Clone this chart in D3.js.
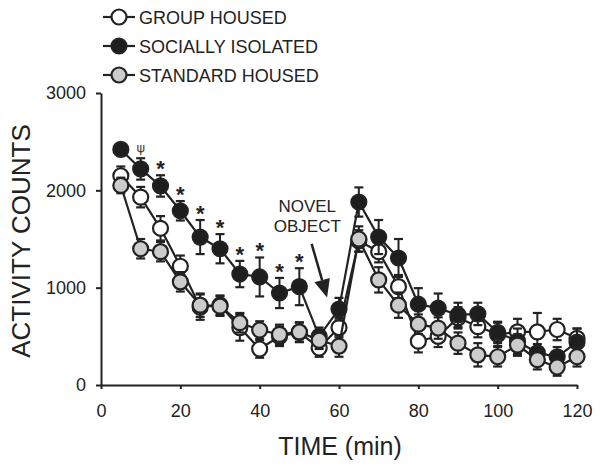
<!DOCTYPE html>
<html><head><meta charset="utf-8">
<script src="https://cdn.jsdelivr.net/npm/d3@7"></script>
<style>
body{margin:0;background:#fff;}
svg{display:block;font-family:"Liberation Sans",Arial,sans-serif;}
</style></head>
<body><svg id="c" width="600" height="469"></svg>
<script>
const times = [5,10,15,20,25,30,35,40,45,50,55,60,65,70,75,80,85,90,95,100,105,110,115,120];
const groupHoused = [2150,1930,1610,1220,800,820,590,370,500,540,380,590,1480,1370,1010,450,500,690,600,520,545,545,570,480];
const groupHousedSem = [95,105,125,110,130,100,135,90,100,100,90,100,110,110,120,115,110,110,110,120,135,195,110,100];
const sociallyIsolated = [2420,2220,2045,1790,1520,1400,1140,1110,945,1010,500,780,1880,1520,1305,830,790,720,730,540,450,330,290,440];
const sociallyIsolatedSem = [60,110,110,100,175,150,135,200,155,190,90,115,150,175,195,165,150,125,115,110,130,90,100,140];
const standardHoused = [2050,1400,1370,1060,820,810,640,565,520,545,460,400,1500,1080,820,625,585,430,310,290,410,260,185,290];
const standardHousedSem = [80,100,100,100,120,100,100,90,100,100,90,110,130,130,130,100,110,110,120,100,110,100,90,100];
const seriesNames = ["GROUP HOUSED","SOCIALLY ISOLATED","STANDARD HOUSED"];
const xTicks = [0,20,40,60,80,100,120];
const yTicks = [0,1000,2000,3000];
const starTimes = [15,20,25,30,35,40,45,50];
const psiTimes = [10];

const ink = "#222";
const fills = ["#ffffff", "#1e1e1e", "#cccccc"];
const svg = d3.select("#c");
const x = d3.scaleLinear().domain([0,120]).range([101,577]);
const y = d3.scaleLinear().domain([0,3000]).range([385,93]);

// axes
const ax = svg.append("g").attr("transform","translate(0,385)")
  .call(d3.axisBottom(x).tickValues(xTicks).tickFormat(d3.format("d")).tickSize(4).tickSizeOuter(0).tickPadding(15));
const ay = svg.append("g").attr("transform","translate(101,0)")
  .call(d3.axisLeft(y).tickValues(yTicks).tickFormat(d3.format("d")).tickSize(5).tickSizeOuter(0).tickPadding(10));
[ax,ay].forEach(g=>{
  g.select(".domain").attr("stroke",ink).attr("stroke-width",2);
  g.selectAll(".tick line").attr("stroke",ink).attr("stroke-width",2);
  g.selectAll(".tick text").attr("fill",ink).style("font-size","18px").style("font-family","'Liberation Sans',Arial,sans-serif");
});

svg.append("text").attr("x",340).attr("y",455).attr("text-anchor","middle")
  .attr("fill",ink).style("font-size","25px").text("TIME (min)");
svg.append("text").attr("transform","translate(30,241) rotate(-90)").attr("text-anchor","middle")
  .attr("fill",ink).style("font-size","26px").text("ACTIVITY COUNTS");

const series = [
  {vals: groupHoused, sem: groupHousedSem, fill: fills[0]},
  {vals: sociallyIsolated, sem: sociallyIsolatedSem, fill: fills[1]},
  {vals: standardHoused, sem: standardHousedSem, fill: fills[2]}
];
const line = d3.line().x(d=>x(d.t)).y(d=>y(d.v));
series.forEach(s=>{
  const pts = times.map((t,i)=>({t, v:s.vals[i], e:s.sem[i]}));
  const g = svg.append("g");
  g.append("path").datum(pts).attr("d",line).attr("fill","none").attr("stroke",ink).attr("stroke-width",2.2);
  const eb = g.selectAll(".eb").data(pts).enter().append("g");
  eb.append("line").attr("x1",d=>x(d.t)).attr("x2",d=>x(d.t)).attr("y1",d=>y(d.v+d.e)).attr("y2",d=>y(d.v-d.e))
    .attr("stroke",ink).attr("stroke-width",2);
  eb.append("line").attr("x1",d=>x(d.t)-4.5).attr("x2",d=>x(d.t)+4.5).attr("y1",d=>y(d.v+d.e)).attr("y2",d=>y(d.v+d.e))
    .attr("stroke",ink).attr("stroke-width",2.2);
  eb.append("line").attr("x1",d=>x(d.t)-4.5).attr("x2",d=>x(d.t)+4.5).attr("y1",d=>y(d.v-d.e)).attr("y2",d=>y(d.v-d.e))
    .attr("stroke",ink).attr("stroke-width",2.2);
  g.selectAll("circle").data(pts).enter().append("circle")
    .attr("cx",d=>x(d.t)).attr("cy",d=>y(d.v)).attr("r",7.5)
    .attr("fill",s.fill).attr("stroke",ink).attr("stroke-width",2.2);
});

// significance marks on socially isolated
const si = t => times.indexOf(t);
starTimes.forEach(t=>{
  const i = si(t);
  svg.append("text").attr("x",x(t)).attr("y",y(sociallyIsolated[i]+sociallyIsolatedSem[i])-11+12)
    .attr("text-anchor","middle").attr("fill",ink).style("font-size","22px").style("font-weight","bold").text("*");
});
psiTimes.forEach(t=>{
  const i = si(t);
  svg.append("text").attr("x",x(t)).attr("y",y(sociallyIsolated[i]+sociallyIsolatedSem[i])-11+5)
    .attr("text-anchor","middle").attr("fill","#444").style("font-size","13px").style("font-family","'DejaVu Sans',sans-serif").text("ψ");
});

// novel object annotation
svg.append("text").attr("x",x(52)).attr("y",y(1778)).attr("text-anchor","middle").attr("fill",ink).style("font-size","17px").text("NOVEL");
svg.append("text").attr("x",x(52)).attr("y",y(1572)).attr("text-anchor","middle").attr("fill",ink).style("font-size","17px").text("OBJECT");
{
  const x1=x(53.1), y1=y(1450), x2=x(57), y2=y(900);
  const dx=x2-x1, dy=y2-y1, L=Math.hypot(dx,dy), ux=dx/L, uy=dy/L;
  const hl=18, hw=8;
  const bx=x2-ux*hl, by=y2-uy*hl;
  svg.append("line").attr("x1",x1).attr("y1",y1).attr("x2",bx).attr("y2",by).attr("stroke",ink).attr("stroke-width",2.5);
  svg.append("path").attr("d",`M${x2},${y2}L${bx-uy*hw},${by+ux*hw}L${bx+uy*hw},${by-ux*hw}Z`).attr("fill",ink);
}

// legend
const legY = [17,46,75];
seriesNames.forEach((n,i)=>{
  const g = svg.append("g").attr("transform",`translate(0,${legY[i]})`);
  g.append("line").attr("x1",103).attr("x2",135).attr("stroke",ink).attr("stroke-width",2.2);
  g.append("circle").attr("cx",119).attr("r",7.5).attr("fill",fills[i]).attr("stroke",ink).attr("stroke-width",2.2);
  g.append("text").attr("x",139).attr("y",6.5).attr("fill",ink).style("font-size","18px").text(n);
});
</script></body></html>
